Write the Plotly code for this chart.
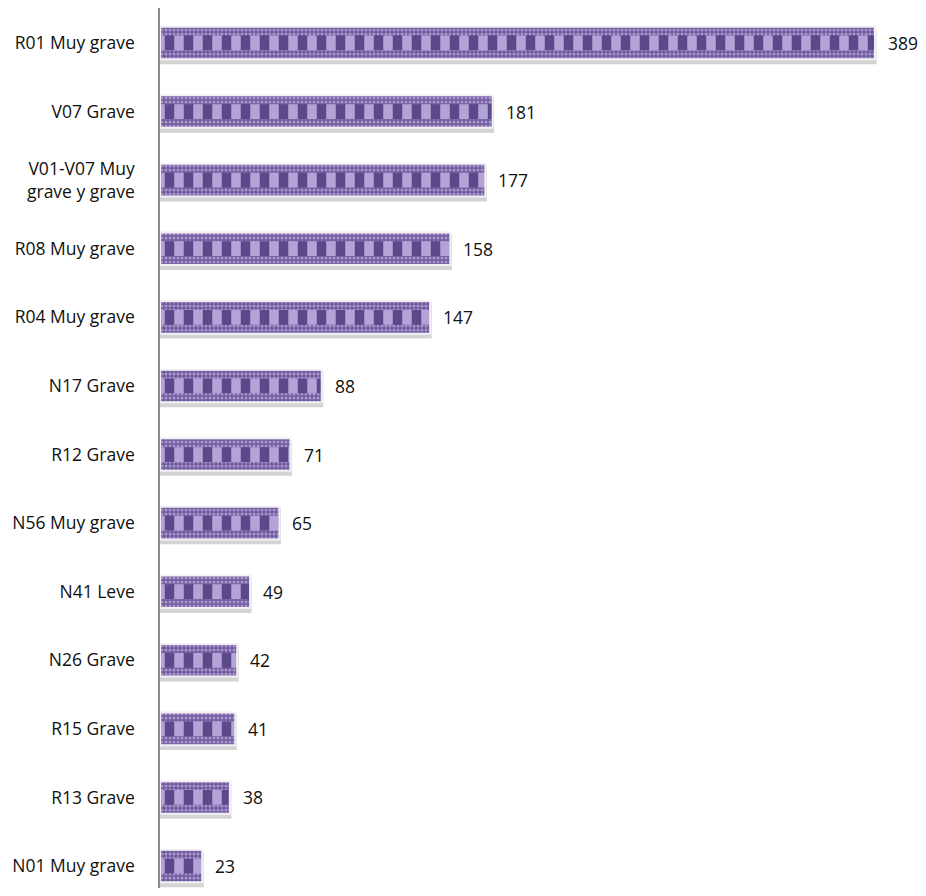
import plotly.graph_objects as go

categories = [
    "R01 Muy grave", "V07 Grave", "V01-V07 Muy<br>grave y grave", "R08 Muy grave",
    "R04 Muy grave", "N17 Grave", "R12 Grave", "N56 Muy grave", "N41 Leve",
    "N26 Grave", "R15 Grave", "R13 Grave", "N01 Muy grave",
]
values = [389, 181, 177, 158, 147, 88, 71, 65, 49, 42, 41, 38, 23]

BW = 0.475  # bar thickness in category units
BAND = 0.13

fig = go.Figure()

# shadow
fig.add_trace(go.Bar(
    x=values, y=categories, orientation="h", width=BW, offset=-BW / 2 + 0.05,
    marker=dict(color="#d4d4d4", line=dict(color="#d4d4d4", width=3)),
    hoverinfo="skip", showlegend=False,
))
# main bar: vertical block stripes
fig.add_trace(go.Bar(
    x=values, y=categories, orientation="h", width=BW, offset=-BW / 2,
    marker=dict(color="#b3a3d6", line=dict(width=0),
                pattern=dict(shape="|", fgcolor="#5c4989", bgcolor="#b3a3d6",
                             size=19, solidity=0.5, fillmode="replace")),
    hoverinfo="skip", showlegend=False,
))
# top checker band
fig.add_trace(go.Bar(
    x=values, y=categories, orientation="h", width=BAND, offset=-BW / 2,
    marker=dict(color="#6e5a9c", line=dict(width=0),
                pattern=dict(shape=".", fgcolor="#a896cc", bgcolor="#6e5a9c",
                             size=4, solidity=0.45, fillmode="replace")),
    hoverinfo="skip", showlegend=False,
))
# bottom checker band
fig.add_trace(go.Bar(
    x=values, y=categories, orientation="h", width=BAND, offset=BW / 2 - BAND,
    marker=dict(color="#6e5a9c", line=dict(width=0),
                pattern=dict(shape=".", fgcolor="#a896cc", bgcolor="#6e5a9c",
                             size=4, solidity=0.45, fillmode="replace")),
    hoverinfo="skip", showlegend=False,
))
# outline
fig.add_trace(go.Bar(
    x=values, y=categories, orientation="h", width=BW, offset=-BW / 2,
    marker=dict(color="rgba(0,0,0,0)", line=dict(color="#f2f0f5", width=2)),
    hoverinfo="skip", showlegend=False,
))

for c, v in zip(categories, values):
    fig.add_annotation(x=v, y=c, text=str(v), showarrow=False, xanchor="left",
                       xshift=11, font=dict(family="Open Sans", size=17.5, color="#111"))

fig.update_layout(
    width=910, height=880,
    margin=dict(l=152, r=0, t=0, b=0),
    paper_bgcolor="white", plot_bgcolor="white",
    barmode="overlay",
    showlegend=False,
    xaxis=dict(range=[0, 412.4], showgrid=False, zeroline=False, showline=False,
               showticklabels=False, ticks=""),
    yaxis=dict(type="category", categoryorder="array", categoryarray=categories,
               range=[12.32, -0.51], showgrid=False, zeroline=False,
               showline=True, linecolor="#8c8c8c", linewidth=1.5,
               ticks="", ticklabelstandoff=20,
               tickfont=dict(family="Open Sans", size=17.5, color="#111")),
)

fig.write_html("out.html")
